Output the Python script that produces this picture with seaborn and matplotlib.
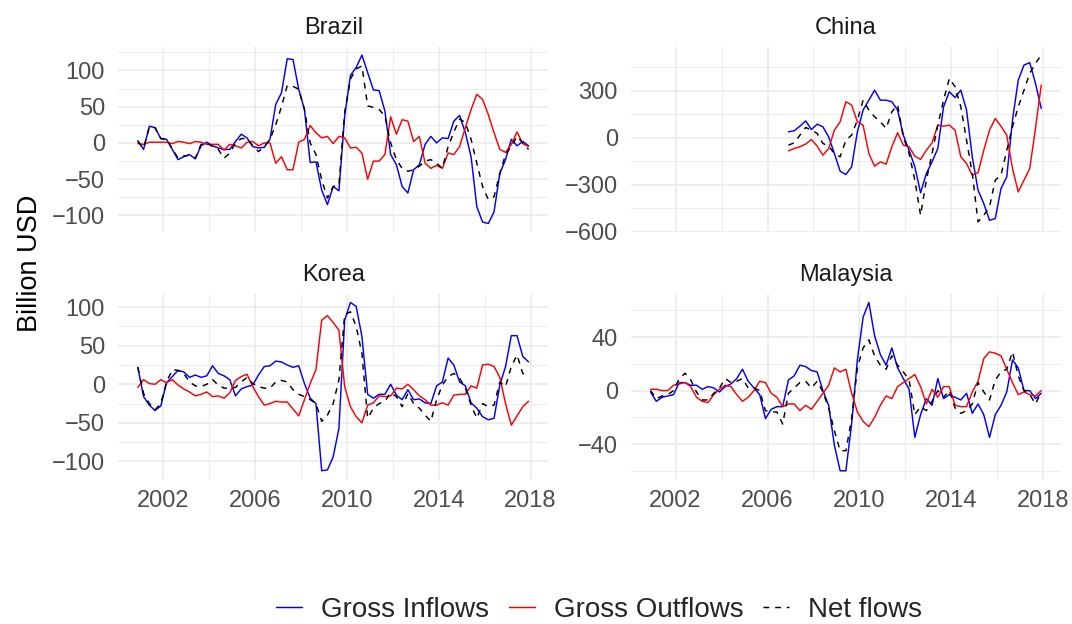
import numpy as np
import pandas as pd
import matplotlib
matplotlib.use("Agg")
import matplotlib.pyplot as plt
from matplotlib.lines import Line2D
from matplotlib.ticker import MultipleLocator, FixedLocator
import seaborn as sns

# ---------------- data (billion USD, quarterly 2001Q1 .. 2018Q1) ----------------
start_year = 2000.91
n_quarters = 69
china_first_quarter = 24

brazil_in = [3, -9, 23, 21, 6, 5, -9, -23, -19, -16,
             -22, -4, 1, -4, -7, -9, -9, 2, 12, 7,
             -5, -7, -6, 5, 53, 69, 116, 115, 74, 46,
             -27, -26, -65, -85, -60, -66, 37, 93, 104, 121,
             97, 73, 72, 44, -16, -30, -60, -69, -37, -30,
             -2, 9, 0, 7, 6, 30, 38, 14, -19, -88,
             -109, -111, -95, -42, -23, 5, -4, 2, -4]
brazil_out = [-1, -2, 1, 1, 1, 1, -1, 2, 1, -1,
              2, 1, -2, -2, -2, -10, -2, -4, -7, 1,
              2, -4, 0, 0, -28, -19, -37, -37, 1, 5,
              24, 14, 7, 9, -1, 9, 7, -7, -6, -14,
              -50, -25, -25, -16, 36, 12, 32, 30, 2, 9,
              -28, -35, -31, -35, -14, -16, -5, 21, 46, 67,
              60, 39, 14, -9, -13, -2, 15, -1, -5]
brazil_net = [2, -7, 22, 21, 6, 5, -8, -21, -18, -17,
              -21, -2, 0, -5, -9, -21, -14, 0, 6, 6,
              -4, -12, -5, 5, 25, 50, 79, 78, 74, 46,
              0, -16, -51, -76, -60, -58, 42, 88, 102, 106,
              51, 49, 46, 37, 0, -23, -35, -39, -37, -32,
              -25, -23, -28, -35, -5, 15, 33, 28, 5, -28,
              -60, -78, -74, -42, -16, -5, 9, 0, -9]

china_in = [38, 45, 74, 108, 53, 87, 70, 6, -100, -213,
            -234, -185, 38, 177, 240, 304, 240, 240, 230, 177,
            17, -79, -185, -351, -228, -153, -68, 198, 294, 257,
            304, 177, -121, -334, -419, -526, -515, -323, -249, 113,
            368, 464, 479, 347, 187]
china_out = [-83, -68, -57, -40, -11, -53, -111, -68, 49, 102,
             230, 209, 102, 81, -100, -181, -153, -168, -57, 32,
             -47, -57, -117, -138, -79, -32, 81, 74, 81, 49,
             -121, -164, -238, -223, -79, 49, 123, 74, 17, -196,
             -345, -270, -196, 60, 336]
china_net = [-47, -32, 17, 66, 49, 28, -36, -53, -100, -121,
             -15, 17, 113, 240, 177, 134, 102, 60, 166, 209,
             6, -100, -270, -494, -270, -100, 81, 240, 379, 326,
             198, -15, -228, -536, -494, -440, -270, -238, -79, 70,
             198, 304, 411, 475, 528]

korea_in = [22, -16, -27, -34, -28, 2, 10, 18, 16, 9,
            12, 9, 11, 24, 14, 11, 6, -15, -6, -3,
            -1, 12, 23, 24, 30, 29, 25, 22, 24, 1,
            -18, -25, -112, -111, -94, -57, 83, 106, 101, 62,
            -13, -18, -13, -13, 0, -14, -20, -7, -20, -19,
            -24, -25, -2, 3, 34, 25, 3, -2, -24, -31,
            -42, -46, -44, -1, 23, 63, 63, 36, 29]
korea_out = [-4, 6, 1, 0, 6, 2, 6, -1, -6, -10,
             -15, -13, -10, -16, -15, -18, -11, 5, 10, 13,
             -3, -16, -27, -25, -22, -23, -23, -32, -41, -20,
             1, 19, 83, 89, 80, 70, -3, -29, -42, -50,
             -27, -24, -15, -16, -15, -5, -6, 0, -7, -15,
             -20, -27, -27, -24, -27, -14, -13, -13, -2, -5,
             25, 26, 23, 9, -25, -53, -41, -29, -22]
korea_net = [22, -12, -25, -33, -25, 3, 19, 18, 14, 3,
             -2, -3, 0, 6, -1, -5, -5, -4, 3, 9,
             1, -3, -5, -5, 3, 5, 3, -7, -13, -16,
             -20, -25, -48, -40, -25, 6, 90, 94, 75, 40,
             -44, -31, -25, -22, -11, -16, -29, -12, -25, -31,
             -40, -48, -20, -1, 10, 14, 8, -5, -27, -44,
             -25, -29, -27, 3, -3, 23, 38, 14, 11]

malaysia_in = [-1, -8, -5, -4, -3, 6, 6, 4, 4, 1,
               3, 2, -1, 3, 5, 9, 16, 7, 2, -3,
               -21, -14, -12, -12, 8, 11, 19, 18, 15, 14,
               0, -11, -41, -60, -60, -25, 23, 55, 66, 41,
               27, 19, 32, 17, 9, 1, -35, -18, -6, -11,
               9, -6, -3, -5, -7, -2, -17, -10, -18, -35,
               -18, -11, -1, 23, 17, 0, 0, -6, -2]
malaysia_out = [1, 1, 0, 0, 4, 5, 6, 3, -5, -8,
                -9, -3, 1, 4, 3, -3, -8, -5, 0, 7,
                6, -2, -5, -12, -10, -10, -15, -11, -14, -8,
                -2, 4, 17, 14, 16, -2, -16, -23, -27, -20,
                -11, -4, -6, 3, 6, 9, 12, 3, -10, 1,
                -5, 3, 3, -11, -12, -12, -1, 7, 24, 29,
                28, 26, 16, 6, -3, -1, -3, -4, 0]
malaysia_net = [0, -6, -4, -3, 0, 9, 13, 8, -1, -7,
                -7, -2, 2, 9, 6, 7, 9, 2, 2, 0,
                -15, -16, -16, -25, -2, 2, 6, 7, 2, 7,
                -1, -13, -30, -45, -45, -21, 17, 32, 38, 26,
                19, 16, 26, 19, 14, 8, -18, -12, -15, -8,
                0, -5, 0, -13, -17, -15, -10, 6, -1, -7,
                8, 14, 16, 29, 11, 0, -3, -10, -1]

countries = ["Brazil", "China", "Korea", "Malaysia"]
series_names = ["Gross Inflows", "Gross Outflows", "Net flows"]
x_major = [2002, 2006, 2010, 2014, 2018]
x_minor = [2000, 2004, 2008, 2012, 2016]

# ---------------- long-form table ----------------
years_full = start_year + 0.25 * np.arange(n_quarters)
panel_series = {
    "Brazil": (years_full, brazil_in, brazil_out, brazil_net),
    "China": (years_full[china_first_quarter:], china_in, china_out, china_net),
    "Korea": (years_full, korea_in, korea_out, korea_net),
    "Malaysia": (years_full, malaysia_in, malaysia_out, malaysia_net),
}
rows = []
for c, (yrs, a, b, n) in panel_series.items():
    for name, vals in zip(series_names, (a, b, n)):
        for yr, v in zip(yrs, vals):
            rows.append((c, name, yr, v))
df = pd.DataFrame(rows, columns=["country", "series", "year", "value"])

# ---------------- style ----------------
sns.set_theme(style="white")
plt.rcParams["font.family"] = ["Liberation Sans", "DejaVu Sans"]
plt.rcParams["axes.unicode_minus"] = True

palette = {"Gross Inflows": "#0000FF", "Gross Outflows": "#FF0000", "Net flows": "#000000"}
dashes = {"Gross Inflows": "", "Gross Outflows": "", "Net flows": (4, 4)}

fig = plt.figure(figsize=(10.72, 6.24), dpi=100)
W, H = 1072, 624
col_left = [118.3, 631.0]
col_w = 430.0
row_top = [46.7, 294.0]
row_h = 185.2

panel_cfg = {
    "Brazil": dict(pos=(0, 0), major=50, minor=25, ylim=(-122.6, 132.6)),
    "China": dict(pos=(0, 1), major=300, minor=150, ylim=(-600, 581)),
    "Korea": dict(pos=(1, 0), major=50, minor=25, ylim=(-123, 117)),
    "Malaysia": dict(pos=(1, 1), major=40, minor=20, ylim=(-66.3, 72.3)),
}

grid_col = "#EBEBEB"
for c in countries:
    cfg = panel_cfg[c]
    r, k = cfg["pos"]
    ax = fig.add_axes([col_left[k] / W, 1 - (row_top[r] + row_h) / H, col_w / W, row_h / H])
    sub = df[df["country"] == c]
    sns.lineplot(data=sub, x="year", y="value", hue="series", style="series",
                 hue_order=series_names, style_order=series_names,
                 palette=palette, dashes=dashes, linewidth=1.05,
                 legend=False, ax=ax, estimator=None, sort=False)
    ax.set_xlim(2000.06, 2018.77)
    ax.set_ylim(*cfg["ylim"])
    ax.xaxis.set_major_locator(FixedLocator(x_major))
    ax.xaxis.set_minor_locator(FixedLocator(x_minor))
    ax.yaxis.set_major_locator(MultipleLocator(cfg["major"]))
    ax.yaxis.set_minor_locator(MultipleLocator(cfg["minor"]))
    ax.grid(which="major", color=grid_col, linewidth=1.2)
    ax.grid(which="minor", color=grid_col, linewidth=0.65)
    ax.set_axisbelow(True)
    for s in ax.spines.values():
        s.set_visible(False)
    ax.tick_params(which="both", length=0)
    ax.tick_params(axis="y", labelsize=17, labelcolor="#4D4D4D", pad=9.5)
    ax.tick_params(axis="x", labelsize=17, labelcolor="#4D4D4D", pad=8)
    ax.set_xlabel("")
    ax.set_ylabel("")
    if r == 0:
        ax.tick_params(axis="x", labelbottom=False)
    else:
        ax.set_xticklabels([str(v) for v in x_major])
    ax.set_title(c, fontsize=17, color="#1A1A1A", pad=9.5)

fig.text(30 / W, 1 - 263 / H, "Billion USD", rotation=90, ha="center", va="center",
         fontsize=19.5, color="black")

handles = [Line2D([], [], color=palette[s], linewidth=1.05,
                  linestyle=(0, (4, 4)) if s == "Net flows" else "-") for s in series_names]
fig.legend(handles, series_names, loc="center", bbox_to_anchor=(0.5586, 1 - 610 / H),
           ncol=3, frameon=False, fontsize=20, handlelength=0.95,
           handletextpad=0.67, columnspacing=0.7)

fig.savefig("out.png", dpi=100)
